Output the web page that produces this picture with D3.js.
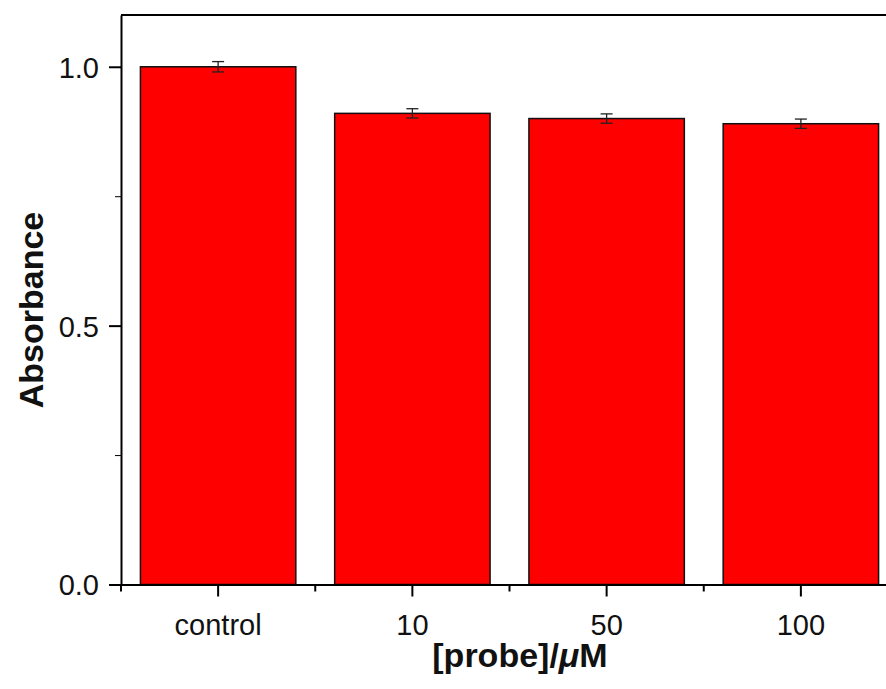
<!DOCTYPE html>
<html>
<head>
<meta charset="utf-8">
<script src="https://cdn.jsdelivr.net/npm/d3@7"></script>
<style>
  body { margin: 0; background: #fff; }
  text { font-family: "Liberation Sans", Arial, sans-serif; }
</style>
</head>
<body>
<div id="main"></div>
<script>
// chart data
const CATEGORIES = ["control", "10", "50", "100"];
const VALUES = [1.0, 0.91, 0.90, 0.89];
const ERRORS = [0.010, 0.009, 0.009, 0.009];
const Y_TICKS = [0.0, 0.5, 1.0];
const Y_MINOR_TICKS = [0.25, 0.75];

const ctx = {
    w: 886,
    h: 689,
    left: 121,
    right: 898,   // plot box goes past the picture edge
    bottom: 584.5,
    top: 15,
    barColor: "#fe0000",
};

function createViz() {
    let svgEl = d3.select("#main").append("svg")
        .attr("width", ctx.w)
        .attr("height", ctx.h);

    let x = d3.scaleBand()
        .domain(CATEGORIES)
        .range([ctx.left, ctx.right])
        .paddingInner(0.2)
        .paddingOuter(0.1);
    let y = d3.scaleLinear()
        .domain([0, 1.1])
        .range([ctx.bottom, ctx.top]);

    // bars
    svgEl.append("g").selectAll("rect")
        .data(CATEGORIES)
        .enter()
        .append("rect")
        .attr("x", (d) => x(d))
        .attr("y", (d, i) => y(VALUES[i]))
        .attr("width", x.bandwidth())
        .attr("height", (d, i) => y(0) - y(VALUES[i]))
        .attr("fill", ctx.barColor)
        .attr("stroke", "#111")
        .attr("stroke-width", 1.5);

    // error bars
    let errG = svgEl.append("g")
        .attr("stroke", "#222")
        .attr("stroke-width", 1.3);
    CATEGORIES.forEach(function (c, i) {
        let cx = x(c) + x.bandwidth() / 2;
        let y1 = y(VALUES[i] + ERRORS[i]);
        let y2 = y(VALUES[i] - ERRORS[i]);
        errG.append("line").attr("x1", cx).attr("x2", cx).attr("y1", y1).attr("y2", y2);
        errG.append("line").attr("x1", cx - 6).attr("x2", cx + 6).attr("y1", y1).attr("y2", y1);
        errG.append("line").attr("x1", cx - 6).attr("x2", cx + 6).attr("y1", y2).attr("y2", y2);
    });

    // frame top and right
    svgEl.append("path")
        .attr("d", `M${ctx.left},${y(1.1)}H${ctx.right}V${y(0)}`)
        .attr("fill", "none")
        .attr("stroke", "#000")
        .attr("stroke-width", 2);

    // y axis
    let yAxis = svgEl.append("g")
        .attr("transform", `translate(${ctx.left},0)`)
        .call(d3.axisLeft(y).tickValues(Y_TICKS)
            .tickFormat(d3.format(".1f"))
            .tickSize(12).tickSizeOuter(0).tickPadding(10));
    svgEl.append("g")
        .attr("transform", `translate(${ctx.left},0)`)
        .call(d3.axisLeft(y).tickValues(Y_MINOR_TICKS)
            .tickFormat("").tickSize(6).tickSizeOuter(0))
        .call((g) => g.select(".domain").remove());

    // x axis
    let xAxis = svgEl.append("g")
        .attr("transform", `translate(0,${ctx.bottom})`)
        .call(d3.axisBottom(x).tickSize(12).tickSizeOuter(0).tickPadding(18));
    // minor ticks at category boundaries
    let bounds = d3.range(CATEGORIES.length + 1).map((i) => ctx.left + i * x.step());
    svgEl.append("g").selectAll("line")
        .data(bounds)
        .enter()
        .append("line")
        .attr("x1", (d) => d).attr("x2", (d) => d)
        .attr("y1", ctx.bottom).attr("y2", ctx.bottom + 7)
        .attr("stroke", "#000")
        .attr("stroke-width", 2);

    [yAxis, xAxis].forEach(function (g) {
        g.selectAll(".domain, line").attr("stroke", "#000").attr("stroke-width", 2);
        g.selectAll("text")
            .attr("font-size", 29)
            .attr("font-family", "Liberation Sans, Arial, sans-serif")
            .attr("fill", "#111");
    });
    yAxis.selectAll("text").attr("dy", "0.36em");

    // axis titles
    svgEl.append("text")
        .attr("transform", "translate(43,310) rotate(-90)")
        .attr("text-anchor", "middle")
        .attr("font-size", 34)
        .attr("font-weight", "bold")
        .attr("fill", "#111")
        .text("Absorbance");

    let xt = svgEl.append("text")
        .attr("x", 520)
        .attr("y", 667)
        .attr("text-anchor", "middle")
        .attr("font-size", 34)
        .attr("font-weight", "bold")
        .attr("fill", "#111");
    xt.append("tspan").text("[probe]/");
    xt.append("tspan").attr("font-style", "italic").text("\u03bc");
    xt.append("tspan").text("M");
}

createViz();
</script>
</body>
</html>
